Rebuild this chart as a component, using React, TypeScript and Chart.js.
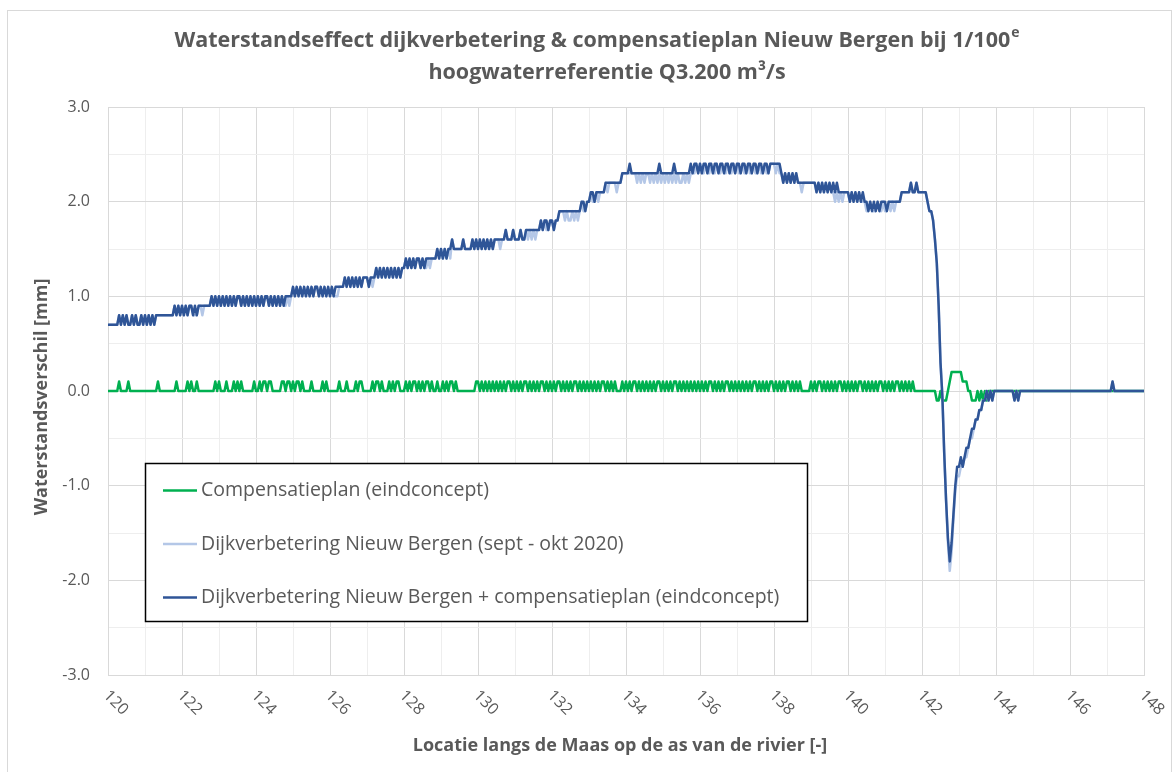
import React, { useEffect, useRef } from 'react';
import { Chart, registerables } from 'chart.js';

Chart.register(...registerables);

// ---- data -------------------------------------------------------------
const KM_START = 120;
const KM_STEP = 0.05;
const X_MIN = 120;
const X_MAX = 148;
const Y_MIN = -3;
const Y_MAX = 3;

// Compensatieplan (eindconcept) [mm], one row per km (20 samples of 0.05 km)
const compensatieplan = [
  0, 0, 0, 0, 0, 0, .1, 0, 0, 0, 0, .1, 0, 0, 0, 0, 0, 0, 0, 0, // 120
  0, 0, 0, 0, 0, 0, 0, .1, 0, 0, 0, 0, 0, 0, 0, 0, 0, .1, 0, 0, // 121
  0, 0, 0, .1, 0, .1, 0, 0, .1, 0, 0, 0, 0, 0, 0, 0, 0, 0, .1, 0, // 122
  .1, 0, 0, 0, .1, 0, 0, 0, .1, 0, .1, 0, .1, 0, 0, 0, 0, 0, 0, .1, // 123
  0, 0, .1, 0, .1, .1, 0, .1, .1, 0, 0, 0, 0, 0, .1, .1, 0, .1, .1, 0, // 124
  .1, 0, .1, .1, 0, .1, 0, 0, 0, 0, .1, 0, 0, 0, 0, 0, .1, 0, .1, 0, // 125
  0, 0, 0, 0, 0, .1, 0, 0, 0, .1, 0, 0, 0, 0, .1, 0, .1, .1, 0, 0, // 126
  0, 0, 0, .1, 0, .1, .1, 0, .1, 0, 0, 0, .1, 0, .1, 0, .1, .1, 0, 0, // 127
  0, .1, 0, .1, 0, .1, .1, 0, .1, 0, .1, 0, .1, .1, 0, .1, 0, 0, .1, 0, // 128
  0, .1, 0, .1, 0, .1, .1, 0, .1, 0, 0, 0, 0, 0, 0, 0, 0, 0, 0, .1, // 129
  .1, 0, .1, 0, .1, 0, .1, 0, .1, 0, .1, 0, .1, 0, .1, 0, .1, .1, 0, .1, // 130
  0, .1, 0, .1, 0, .1, .1, 0, .1, 0, .1, 0, .1, 0, .1, .1, 0, .1, 0, .1, // 131
  0, .1, 0, .1, .1, 0, .1, 0, .1, 0, .1, 0, .1, .1, 0, .1, 0, .1, 0, .1, // 132
  0, .1, 0, .1, 0, .1, 0, .1, .1, 0, .1, 0, .1, 0, .1, 0, 0, 0, .1, 0, // 133
  .1, 0, .1, 0, .1, .1, 0, .1, 0, .1, 0, .1, 0, .1, 0, .1, 0, .1, .1, 0, // 134
  .1, 0, .1, 0, .1, 0, .1, .1, 0, .1, 0, .1, 0, .1, 0, .1, 0, .1, 0, .1, // 135
  0, .1, 0, .1, 0, .1, .1, 0, .1, 0, .1, 0, .1, 0, .1, .1, 0, .1, 0, .1, // 136
  0, .1, 0, .1, 0, .1, 0, .1, 0, .1, .1, 0, .1, 0, .1, 0, .1, 0, .1, .1, // 137
  0, .1, 0, .1, 0, .1, 0, .1, .1, 0, .1, 0, .1, 0, .1, 0, 0, 0, 0, 0, // 138
  .1, 0, .1, 0, .1, .1, 0, .1, 0, .1, 0, .1, 0, .1, 0, .1, .1, 0, .1, 0, // 139
  .1, 0, .1, 0, .1, 0, .1, .1, 0, .1, 0, .1, 0, .1, 0, .1, 0, .1, .1, 0, // 140
  .1, 0, .1, 0, .1, 0, .1, .1, 0, .1, 0, .1, 0, .1, 0, .1, 0, 0, 0, 0, // 141
  0, 0, 0, 0, 0, 0, 0, 0, -.1, -.1, 0, -.1, -.1, -.1, 0, .1, .2, .2, .2, .2, // 142
  .2, .2, .1, .1, .1, 0, 0, -.1, -.1, -.1, 0, -.1, 0, -.1, 0, -.1, 0, 0, 0, 0, // 143
  0, 0, 0, 0, 0, 0, 0, 0, 0, 0, 0, 0, 0, 0, 0, 0, 0, 0, 0, 0, // 144
  0, 0, 0, 0, 0, 0, 0, 0, 0, 0, 0, 0, 0, 0, 0, 0, 0, 0, 0, 0, // 145
  0, 0, 0, 0, 0, 0, 0, 0, 0, 0, 0, 0, 0, 0, 0, 0, 0, 0, 0, 0, // 146
  0, 0, 0, 0, 0, 0, 0, 0, 0, 0, 0, 0, 0, 0, 0, 0, 0, 0, 0, 0, // 147
  0, // 148
];

// Dijkverbetering Nieuw Bergen (sept - okt 2020) [mm]
const dijkverbetering = [
  .7, .7, .7, .7, .7, .7, .8, .7, .8, .7, .8, .7, .7, .8, .7, .8, .7, .7, .8, .7, // 120
  .8, .7, .8, .7, .8, .7, .8, .8, .8, .8, .8, .8, .8, .8, .8, .8, .9, .8, .9, .8, // 121
  .9, .8, .9, .8, .9, .9, .8, .8, .8, .9, .9, .8, .9, .9, .9, .9, 1, .9, 1, .9, // 122
  1, .9, 1, .9, 1, .9, 1, .9, 1, .9, 1, 1, .9, 1, .9, 1, .9, 1, .9, 1, // 123
  .9, 1, .9, 1, .9, 1, 1, .9, 1, .9, 1, .9, 1, .9, 1, .9, .9, 1, .9, 1, // 124
  1.1, 1, 1.1, 1, 1.1, 1, 1.1, 1, 1.1, 1, 1.1, 1, 1.1, 1.1, 1, 1.1, 1, 1.1, 1, 1.1, // 125
  1, 1.1, 1, 1, 1, 1.1, 1.1, 1.1, 1.2, 1.1, 1.2, 1.1, 1.2, 1.1, 1.2, 1.1, 1.2, 1.1, 1.2, 1.2, // 126
  1.2, 1.1, 1.2, 1.1, 1.2, 1.3, 1.2, 1.3, 1.2, 1.3, 1.2, 1.3, 1.2, 1.3, 1.2, 1.3, 1.2, 1.3, 1.2, 1.3, // 127
  1.3, 1.4, 1.3, 1.4, 1.3, 1.4, 1.3, 1.4, 1.4, 1.3, 1.4, 1.3, 1.3, 1.4, 1.3, 1.4, 1.4, 1.4, 1.5, 1.4, // 128
  1.5, 1.4, 1.5, 1.4, 1.5, 1.4, 1.6, 1.5, 1.5, 1.5, 1.5, 1.5, 1.6, 1.5, 1.5, 1.5, 1.5, 1.6, 1.5, 1.6, // 129
  1.5, 1.6, 1.5, 1.6, 1.5, 1.6, 1.5, 1.6, 1.5, 1.6, 1.6, 1.6, 1.5, 1.6, 1.6, 1.7, 1.6, 1.6, 1.6, 1.7, // 130
  1.6, 1.6, 1.6, 1.7, 1.6, 1.6, 1.7, 1.6, 1.7, 1.6, 1.7, 1.6, 1.7, 1.7, 1.8, 1.7, 1.8, 1.7, 1.7, 1.8, // 131
  1.8, 1.7, 1.8, 1.8, 1.9, 1.9, 1.9, 1.8, 1.9, 1.8, 1.8, 1.9, 1.8, 1.9, 1.8, 1.9, 2, 1.9, 1.9, 2, // 132
  2, 2.1, 2, 2, 2.1, 2, 2.1, 2.1, 2.1, 2.2, 2.1, 2.2, 2.2, 2.2, 2.2, 2.1, 2.2, 2.2, 2.3, 2.3, // 133
  2.3, 2.3, 2.3, 2.3, 2.3, 2.3, 2.2, 2.3, 2.2, 2.3, 2.2, 2.3, 2.3, 2.2, 2.3, 2.2, 2.3, 2.2, 2.3, 2.2, // 134
  2.3, 2.2, 2.3, 2.2, 2.3, 2.2, 2.3, 2.2, 2.3, 2.2, 2.2, 2.3, 2.2, 2.3, 2.2, 2.3, 2.3, 2.3, 2.4, 2.3, // 135
  2.4, 2.3, 2.3, 2.4, 2.3, 2.3, 2.4, 2.3, 2.3, 2.4, 2.3, 2.3, 2.4, 2.3, 2.3, 2.4, 2.3, 2.3, 2.4, 2.3, // 136
  2.4, 2.3, 2.3, 2.4, 2.3, 2.3, 2.4, 2.3, 2.3, 2.4, 2.3, 2.3, 2.4, 2.3, 2.3, 2.4, 2.3, 2.3, 2.4, 2.4, // 137
  2.4, 2.3, 2.4, 2.3, 2.3, 2.2, 2.3, 2.2, 2.3, 2.2, 2.3, 2.2, 2.3, 2.2, 2.2, 2.1, 2.2, 2.2, 2.2, 2.2, // 138
  2.2, 2.2, 2.2, 2.1, 2.2, 2.1, 2.2, 2.1, 2.2, 2.1, 2.2, 2.1, 2.1, 2, 2.1, 2, 2.1, 2, 2.1, 2.1, // 139
  2.1, 2, 2.1, 2, 2.1, 2, 2.1, 2, 2, 2, 1.9, 1.9, 2, 1.9, 1.9, 1.9, 2, 1.9, 1.9, 2, // 140
  1.9, 1.9, 2, 1.9, 2, 1.9, 2, 2, 2, 2.1, 2.1, 2.1, 2.1, 2.1, 2.2, 2.1, 2.1, 2.2, 2.1, 2.1, // 141
  2.1, 2.1, 2.1, 2, 1.9, 1.9, 1.8, 1.6, 1.35, .9, .3, -.05, -.65, -1.15, -1.6, -1.9, -1.7, -1.35, -1.05, -.9, // 142
  -.9, -.8, -.8, -.7, -.7, -.6, -.5, -.5, -.4, -.3, -.3, -.2, -.2, -.1, -.1, 0, -.1, 0, -.1, 0, // 143
  0, 0, 0, 0, 0, 0, 0, 0, 0, 0, -.1, 0, -.1, 0, 0, 0, 0, 0, 0, 0, // 144
  0, 0, 0, 0, 0, 0, 0, 0, 0, 0, 0, 0, 0, 0, 0, 0, 0, 0, 0, 0, // 145
  0, 0, 0, 0, 0, 0, 0, 0, 0, 0, 0, 0, 0, 0, 0, 0, 0, 0, 0, 0, // 146
  0, 0, 0, .1, 0, 0, 0, 0, 0, 0, 0, 0, 0, 0, 0, 0, 0, 0, 0, 0, // 147
  0, // 148
];

// Dijkverbetering Nieuw Bergen + compensatieplan (eindconcept) [mm]
const dijkPlusCompensatie = [
  .7, .7, .7, .7, .7, .7, .8, .7, .8, .7, .8, .7, .7, .8, .7, .8, .7, .7, .8, .7, // 120
  .8, .7, .8, .7, .8, .7, .8, .8, .8, .8, .8, .8, .8, .8, .8, .8, .9, .8, .9, .8, // 121
  .9, .8, .9, .8, .9, .9, .8, .9, .8, .9, .9, .9, .9, .9, .9, .9, 1, .9, 1, .9, // 122
  1, .9, 1, .9, 1, .9, 1, .9, 1, .9, 1, 1, .9, 1, .9, 1, .9, 1, .9, 1, // 123
  .9, 1, .9, 1, .9, 1, 1, .9, 1, .9, 1, .9, 1, .9, 1, .9, 1, 1, 1, 1, // 124
  1.1, 1, 1.1, 1, 1.1, 1, 1.1, 1, 1.1, 1, 1.1, 1, 1.1, 1.1, 1, 1.1, 1, 1.1, 1, 1.1, // 125
  1, 1.1, 1, 1.1, 1.1, 1.1, 1.1, 1.1, 1.2, 1.1, 1.2, 1.1, 1.2, 1.1, 1.2, 1.1, 1.2, 1.1, 1.2, 1.2, // 126
  1.2, 1.1, 1.2, 1.2, 1.2, 1.3, 1.2, 1.3, 1.2, 1.3, 1.2, 1.3, 1.2, 1.3, 1.2, 1.3, 1.2, 1.3, 1.2, 1.3, // 127
  1.3, 1.4, 1.3, 1.4, 1.3, 1.4, 1.3, 1.4, 1.4, 1.3, 1.4, 1.3, 1.4, 1.4, 1.4, 1.4, 1.4, 1.4, 1.5, 1.4, // 128
  1.5, 1.4, 1.5, 1.4, 1.5, 1.5, 1.6, 1.5, 1.5, 1.5, 1.5, 1.5, 1.6, 1.5, 1.5, 1.5, 1.5, 1.6, 1.5, 1.6, // 129
  1.5, 1.6, 1.5, 1.6, 1.5, 1.6, 1.5, 1.6, 1.5, 1.6, 1.6, 1.6, 1.6, 1.6, 1.6, 1.7, 1.6, 1.6, 1.6, 1.7, // 130
  1.6, 1.6, 1.6, 1.7, 1.6, 1.6, 1.7, 1.7, 1.7, 1.7, 1.7, 1.7, 1.7, 1.7, 1.8, 1.7, 1.8, 1.8, 1.7, 1.8, // 131
  1.8, 1.7, 1.8, 1.8, 1.9, 1.9, 1.9, 1.9, 1.9, 1.9, 1.9, 1.9, 1.9, 1.9, 1.9, 1.9, 2, 2, 1.9, 2, // 132
  2, 2.1, 2.1, 2, 2.1, 2.1, 2.1, 2.1, 2.1, 2.2, 2.2, 2.2, 2.2, 2.2, 2.2, 2.2, 2.2, 2.2, 2.3, 2.3, // 133
  2.3, 2.3, 2.4, 2.3, 2.3, 2.3, 2.3, 2.3, 2.3, 2.3, 2.3, 2.3, 2.3, 2.3, 2.3, 2.3, 2.3, 2.3, 2.4, 2.3, // 134
  2.3, 2.3, 2.3, 2.3, 2.3, 2.3, 2.4, 2.3, 2.3, 2.3, 2.3, 2.3, 2.3, 2.3, 2.3, 2.4, 2.3, 2.4, 2.4, 2.3, // 135
  2.4, 2.3, 2.4, 2.4, 2.3, 2.4, 2.4, 2.3, 2.4, 2.4, 2.3, 2.4, 2.4, 2.3, 2.4, 2.4, 2.3, 2.4, 2.4, 2.3, // 136
  2.4, 2.4, 2.3, 2.4, 2.4, 2.3, 2.4, 2.4, 2.3, 2.4, 2.4, 2.3, 2.4, 2.4, 2.3, 2.4, 2.4, 2.3, 2.4, 2.4, // 137
  2.4, 2.4, 2.4, 2.4, 2.3, 2.2, 2.3, 2.2, 2.3, 2.2, 2.3, 2.2, 2.3, 2.2, 2.2, 2.2, 2.2, 2.2, 2.2, 2.2, // 138
  2.2, 2.2, 2.2, 2.1, 2.2, 2.1, 2.2, 2.1, 2.2, 2.1, 2.2, 2.1, 2.2, 2.1, 2.2, 2.1, 2.1, 2.1, 2.1, 2.1, // 139
  2.1, 2, 2.1, 2, 2.1, 2, 2.1, 2, 2.1, 2, 2, 1.9, 2, 1.9, 2, 1.9, 2, 1.9, 2, 2, // 140
  2, 1.9, 2, 2, 2, 2, 2, 2, 2, 2.1, 2.1, 2.1, 2.1, 2.1, 2.2, 2.1, 2.1, 2.2, 2.1, 2.1, // 141
  2.1, 2.1, 2.1, 2, 1.9, 1.9, 1.8, 1.6, 1.35, .9, .3, -.05, -.65, -1.15, -1.55, -1.8, -1.6, -1.3, -1, -.8, // 142
  -.8, -.7, -.8, -.7, -.6, -.6, -.5, -.4, -.4, -.3, -.3, -.2, -.2, -.1, -.1, 0, -.1, 0, -.1, 0, // 143
  0, 0, 0, 0, 0, 0, 0, 0, 0, 0, -.1, 0, -.1, 0, 0, 0, 0, 0, 0, 0, // 144
  0, 0, 0, 0, 0, 0, 0, 0, 0, 0, 0, 0, 0, 0, 0, 0, 0, 0, 0, 0, // 145
  0, 0, 0, 0, 0, 0, 0, 0, 0, 0, 0, 0, 0, 0, 0, 0, 0, 0, 0, 0, // 146
  0, 0, 0, .1, 0, 0, 0, 0, 0, 0, 0, 0, 0, 0, 0, 0, 0, 0, 0, 0, // 147
  0, // 148
];

const seriesLabels = [
  'Compensatieplan (eindconcept)',
  'Dijkverbetering Nieuw Bergen (sept - okt 2020)',
  'Dijkverbetering Nieuw Bergen + compensatieplan (eindconcept)',
];
const seriesColors = ['#00B050', '#B4C7E7', '#2F5597'];

const titleLine1 = 'Waterstandseffect dijkverbetering & compensatieplan Nieuw Bergen bij 1/100';
const titleSup = 'e';
const titleLine2 = 'hoogwaterreferentie Q3.200 m³/s';
const xAxisTitle = 'Locatie langs de Maas op de as van de rivier [-]';
const yAxisTitle = 'Waterstandsverschil [mm]';

// ---- styling ----------------------------------------------------------
const FONT = '"Open Sans", "DejaVu Sans", sans-serif';
const TEXT_COLOR = '#595959';

const toPoints = (vals: number[]) =>
  vals.map((y, i) => ({ x: Math.round((KM_START + i * KM_STEP) * 100) / 100, y }));

const decorPlugin = {
  id: 'decor',
  beforeDraw(chart: any) {
    const ctx = chart.ctx;
    ctx.save();
    ctx.fillStyle = '#ffffff';
    ctx.fillRect(0, 0, chart.width, chart.height);
    ctx.strokeStyle = '#D9D9D9';
    ctx.lineWidth = 1;
    ctx.strokeRect(7.5, 10.5, 1164, 800);
    ctx.restore();
  },
  afterDraw(chart: any) {
    const { ctx, chartArea } = chart;
    const xs = chart.scales.x;
    ctx.save();

    // rotated x tick labels
    ctx.fillStyle = TEXT_COLOR;
    ctx.font = `16px ${FONT}`;
    ctx.textAlign = 'left';
    ctx.textBaseline = 'middle';
    xs.ticks.forEach((t: any) => {
      if (Math.round(t.value) % 2 !== 0) return;
      const px = xs.getPixelForValue(t.value);
      ctx.save();
      ctx.translate(px - 2, chartArea.bottom + 18);
      ctx.rotate(Math.PI / 4);
      ctx.fillText(String(t.value), 0, 0);
      ctx.restore();
    });

    // chart title with superscript
    const T = 21.5;
    const S = 14;
    ctx.font = `bold ${T}px ${FONT}`;
    const w1 = ctx.measureText(titleLine1).width;
    ctx.font = `bold ${S}px ${FONT}`;
    const ws = ctx.measureText(titleSup).width;
    const x0 = 597 - (w1 + ws + 1) / 2;
    ctx.textAlign = 'left';
    ctx.font = `bold ${T}px ${FONT}`;
    ctx.fillText(titleLine1, x0, 41);
    ctx.font = `bold ${S}px ${FONT}`;
    ctx.fillText(titleSup, x0 + w1 + 1, 33);
    ctx.font = `bold ${T}px ${FONT}`;
    ctx.textAlign = 'center';
    ctx.fillText(titleLine2, 607, 73);

    // axis titles
    ctx.font = `bold 18px ${FONT}`;
    ctx.textAlign = 'center';
    ctx.fillText(xAxisTitle, 620, 746);
    ctx.save();
    ctx.translate(42, 397);
    ctx.rotate(-Math.PI / 2);
    ctx.fillText(yAxisTitle, 0, 0);
    ctx.restore();

    // legend box
    const lx = 145.5, ly = 463.5, lw = 662, lh = 158;
    ctx.fillStyle = '#ffffff';
    ctx.fillRect(lx, ly, lw, lh);
    ctx.strokeStyle = '#000000';
    ctx.lineWidth = 1.5;
    ctx.strokeRect(lx, ly, lw, lh);
    chart.data.datasets.forEach((ds: any, i: number) => {
      const y = ly + 27 + i * 53.5;
      ctx.strokeStyle = ds.borderColor;
      ctx.lineWidth = 2.5;
      ctx.beginPath();
      ctx.moveTo(163, y);
      ctx.lineTo(197, y);
      ctx.stroke();
      ctx.fillStyle = TEXT_COLOR;
      ctx.font = `19.5px ${FONT}`;
      ctx.textAlign = 'left';
      ctx.textBaseline = 'middle';
      ctx.fillText(ds.label, 201, y);
    });
    ctx.restore();
  },
};

export default function App() {
  const canvasRef = useRef<HTMLCanvasElement | null>(null);

  useEffect(() => {
    const canvas = canvasRef.current;
    if (!canvas) return;
    const seriesValues = [compensatieplan, dijkverbetering, dijkPlusCompensatie];
    const chart = new Chart(canvas, {
      type: 'line',
      data: {
        datasets: seriesValues.map((vals, i) => ({
          label: seriesLabels[i],
          data: toPoints(vals),
          borderColor: seriesColors[i],
          backgroundColor: seriesColors[i],
          borderWidth: 2.5,
          pointRadius: 0,
          tension: 0,
          fill: false,
          order: 3 - i,
        })),
      },
      options: {
        animation: false,
        responsive: false,
        devicePixelRatio: 1,
        events: [],
        layout: { padding: { left: 0, right: 30, top: 107, bottom: 97 } },
        elements: { line: { borderJoinStyle: 'round', borderCapStyle: 'round' } },
        plugins: {
          legend: { display: false },
          title: { display: false },
          tooltip: { enabled: false },
        },
        scales: {
          x: {
            type: 'linear',
            min: X_MIN,
            max: X_MAX,
            ticks: { stepSize: 1, display: false },
            grid: {
              drawTicks: false,
              color: (c: any) => (c.tick && Math.round(c.tick.value) % 2 === 0 ? '#D9D9D9' : '#EEEEEE'),
            },
            border: { display: true, color: '#D9D9D9' },
            afterFit: (s: any) => { s.height = 0; },
          },
          y: {
            min: Y_MIN,
            max: Y_MAX,
            ticks: {
              stepSize: 0.5,
              padding: 18,
              color: TEXT_COLOR,
              font: { family: FONT, size: 16 },
              callback: (v: any) => (Math.abs(Number(v) % 1) < 1e-9 ? Number(v).toFixed(1) : ''),
            },
            grid: {
              drawTicks: false,
              color: (c: any) => (c.tick && Math.abs(c.tick.value % 1) < 1e-9 ? '#D9D9D9' : '#EEEEEE'),
            },
            border: { display: true, color: '#D9D9D9' },
            afterFit: (s: any) => { s.width = 108; },
          },
        },
      },
      plugins: [decorPlugin],
    } as any);
    return () => chart.destroy();
  }, []);

  return (
    <div style={{ position: 'fixed', left: 0, top: 0, width: 1174, height: 772, background: '#fff' }}>
      <canvas ref={canvasRef} width={1174} height={772} style={{ display: 'block' }} />
    </div>
  );
}
